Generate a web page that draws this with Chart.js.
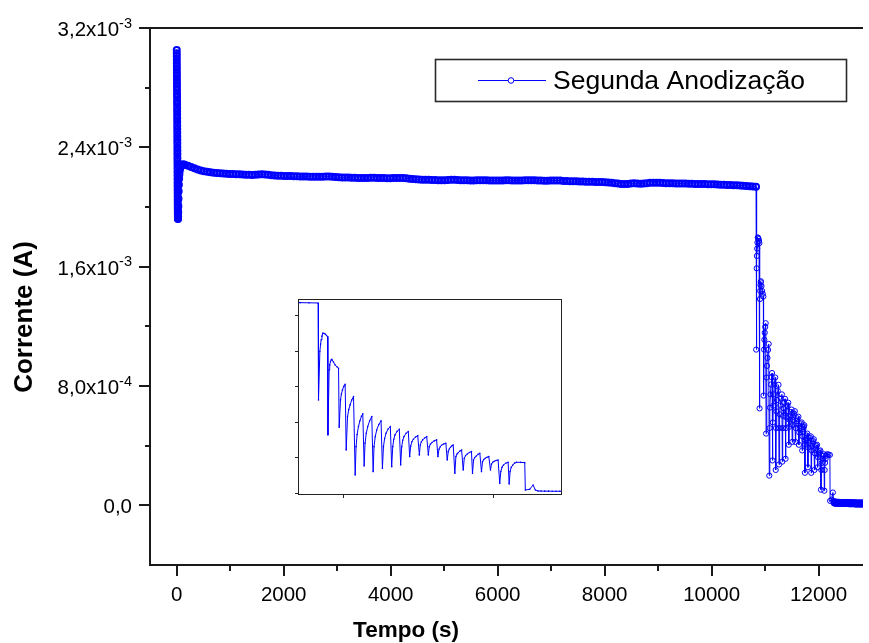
<!DOCTYPE html>
<html>
<head>
<meta charset="utf-8">
<script src="https://cdn.jsdelivr.net/npm/chart.js@4/dist/chart.umd.min.js"></script>
<style>
  html, body { margin: 0; padding: 0; background: #fff; overflow: hidden; }
  #quadro { position: relative; width: 869px; height: 643px; }
  #principal { position: absolute; left: 0; top: 0; }
  #detalhe { position: absolute; left: 285px; top: 290px; }
</style>
</head>
<body>
<div id="quadro">
  <canvas id="principal" width="869" height="643"></canvas>
  <canvas id="detalhe" width="290" height="215"></canvas>
</div>
<script>
// Cronoamperometria da segunda anodização: tempo (s) e corrente (mA).

// Pico inicial e recuperação
const tempoInicio = [
  0,0.4,0.8,1.2,1.6,2,2.4,2.8,3.2,3.6,4,4.4,4.8,5.2,5.6,6,6.4,6.8,7.2,7.6,
  8,8.4,8.8,9.2,9.6,10,10.4,10.8,11.2,11.6,12,12.4,12.8,13.2,13.6,14,14.4,14.8,15.2,15.6,
  16,16.5,17,17.5,18,18.5,19,19.5,20,20.5,21,21.5,22,
  24,26,28,30,33,36,40,45,50,57,65,75,87,100,115,130
];
const correnteInicioMA = [
  3.052,3.031,3.010,2.988,2.966,2.944,2.921,2.899,2.876,2.853,2.830,2.807,2.784,2.760,2.737,2.713,2.690,2.666,2.642,2.619,
  2.595,2.571,2.547,2.523,2.499,2.475,2.451,2.427,2.403,2.379,2.355,2.331,2.307,2.283,2.259,2.235,2.211,2.187,2.163,2.140,
  2.117,2.094,2.072,2.051,2.031,2.012,1.994,1.977,1.962,1.949,1.937,1.927,1.920,
  1.921,1.935,1.965,2.005,2.055,2.105,2.150,2.190,2.220,2.245,2.262,2.272,2.279,2.283,2.285,2.285
];

// Patamar de corrente
const tempoPlato = [
  150,210,270,330,390,450,510,570,630,690,
  750,810,870,930,990,1050,1110,1170,1230,1290,
  1350,1410,1470,1530,1590,1650,1710,1770,1830,1890,
  1950,2010,2070,2130,2190,2250,2310,2370,2430,2490,
  2550,2610,2670,2730,2790,2850,2910,2970,3030,3090,
  3150,3210,3270,3330,3390,3450,3510,3570,3630,3690,
  3750,3810,3870,3930,3990,4050,4110,4170,4230,4290,
  4350,4410,4470,4530,4590,4650,4710,4770,4830,4890,
  4950,5010,5070,5130,5190,5250,5310,5370,5430,5490,
  5550,5610,5670,5730,5790,5850,5910,5970,6030,6090,
  6150,6210,6270,6330,6390,6450,6510,6570,6630,6690,
  6750,6810,6870,6930,6990,7050,7110,7170,7230,7290,
  7350,7410,7470,7530,7590,7650,7710,7770,7830,7890,
  7950,8010,8070,8130,8190,8250,8310,8370,8430,8490,
  8550,8610,8670,8730,8790,8850,8910,8970,9030,9090,
  9150,9210,9270,9330,9390,9450,9510,9570,9630,9690,
  9750,9810,9870,9930,9990,10050,10110,10170,10230,10290,
  10350,10410,10470,10530,10590,10650,10710,10770,10830
];
const correntePlatoMA = [
  2.283,2.277,2.268,2.259,2.251,2.245,2.240,2.236,2.233,2.230,
  2.228,2.226,2.225,2.223,2.222,2.221,2.220,2.219,2.218,2.217,
  2.216,2.215,2.216,2.218,2.219,2.218,2.216,2.213,2.211,2.210,
  2.209,2.208,2.208,2.207,2.206,2.206,2.205,2.205,2.204,2.203,
  2.203,2.202,2.202,2.203,2.204,2.204,2.203,2.201,2.199,2.198,
  2.197,2.197,2.196,2.196,2.195,2.195,2.194,2.195,2.196,2.196,
  2.195,2.194,2.194,2.193,2.193,2.194,2.195,2.195,2.194,2.192,
  2.190,2.188,2.186,2.184,2.183,2.182,2.182,2.181,2.181,2.180,
  2.180,2.180,2.181,2.182,2.182,2.181,2.180,2.179,2.179,2.178,
  2.178,2.179,2.180,2.180,2.179,2.178,2.178,2.177,2.177,2.178,
  2.179,2.179,2.178,2.177,2.177,2.178,2.179,2.180,2.180,2.179,
  2.178,2.177,2.176,2.176,2.177,2.178,2.178,2.177,2.175,2.174,
  2.173,2.172,2.172,2.171,2.171,2.170,2.170,2.169,2.168,2.168,
  2.167,2.166,2.165,2.163,2.160,2.157,2.155,2.154,2.155,2.157,
  2.159,2.158,2.156,2.157,2.160,2.162,2.163,2.163,2.162,2.161,
  2.160,2.160,2.159,2.158,2.158,2.157,2.157,2.156,2.156,2.155,
  2.155,2.154,2.154,2.153,2.153,2.152,2.151,2.150,2.149,2.148,
  2.147,2.146,2.145,2.144,2.143,2.141,2.139,2.137,2.135
];

// Queda oscilante da corrente (um ciclo por linha)
const tempoQueda = [
  10833,10842,10847,10851,10856,10862,10870,10878,10886,10893,
  10896,10904,10908,10913,10918,10922,10933,10944,10956,10967,
  10971,10980,10986,10993,11002,11011,
  11018,11027,11035,11044,11055,11067,
  11078,11084,11091,11100,11110,11120,11129,
  11138,11144,11152,11162,11175,11189,
  11198,11204,11212,11222,11236,11251,
  11260,11267,11275,11284,11298,11313,
  11322,11329,11336,11344,11358,11373,
  11382,11389,11396,11404,11418,11433,
  11442,11449,11457,11467,11481,11496,
  11507,11513,11520,11529,11542,11556,
  11567,11573,11581,11591,11606,11622,
  11631,11638,11646,11655,11669,11684,
  11693,11700,11707,11715,11724,11733,
  11744,11751,11758,11767,11778,11789,
  11800,11807,11816,11827,11841,11855,
  11862,11869,11877,11887,11899,11911,
  11922,11929,11937,11947,11959,11971,
  11982,11989,11997,12007,12020,12033,
  12044,12051,12059,12069,12084,12100,
  12107,12113,12121,12131,12143,12156,12184,12211,
  12215,12244,12267,12282,12300
];
const correnteQuedaMA = [
  1.044,1.589,1.672,1.721,1.762,1.796,1.792,1.785,1.772,1.758,
  0.650,1.383,1.438,1.476,1.495,1.502,1.470,1.437,1.418,1.400,
  0.736,1.044,1.110,1.157,1.196,1.221,
  0.481,0.857,0.935,0.988,1.042,1.082,
  0.199,0.518,0.655,0.744,0.810,0.860,0.887,
  0.301,0.556,0.668,0.744,0.810,0.857,
  0.237,0.518,0.630,0.706,0.768,0.808,
  0.274,0.518,0.610,0.669,0.716,0.744,
  0.293,0.518,0.600,0.650,0.690,0.714,
  0.312,0.518,0.590,0.631,0.668,0.688,
  0.406,0.526,0.573,0.601,0.626,0.642,
  0.425,0.537,0.572,0.594,0.616,0.631,
  0.425,0.518,0.546,0.564,0.583,0.594,
  0.406,0.488,0.516,0.534,0.548,0.556,
  0.368,0.462,0.492,0.511,0.527,0.537,
  0.218,0.406,0.435,0.451,0.468,0.481,
  0.255,0.387,0.418,0.436,0.452,0.462,
  0.218,0.368,0.396,0.413,0.431,0.443,
  0.237,0.349,0.372,0.387,0.398,0.406,
  0.255,0.323,0.341,0.353,0.362,0.368,
  0.105,0.237,0.285,0.312,0.331,0.342,
  0.098,0.237,0.285,0.312,0.332,0.342,0.341,0.338,
  0.030,0.038,0.086,0.030,0.019
];

// Corrente residual
const tempoCauda = [
  12320,12345,12370,12395,12420,12445,12470,12495,12520,12545,12570,12595,
  12620,12645,12670,12695,12720,12745,12770,12795,12820,12845,12870,12895
];
const correnteCaudaMA = [
  0.018,0.017,0.017,0.016,0.016,0.016,0.015,0.015,0.015,0.015,0.014,0.014,
  0.014,0.014,0.014,0.013,0.013,0.013,0.013,0.013,0.013,0.012,0.012,0.012
];

const nomeSerie = 'Segunda Anodização';

// Eixos do gráfico principal
const tituloX = 'Tempo (s)';
const tituloY = 'Corrente (A)';
const ticksX = [0, 2000, 4000, 6000, 8000, 10000, 12000];
const ticksXMenores = [1000, 3000, 5000, 7000, 9000, 11000];
const ticksY = [0, 8.0e-4, 1.6e-3, 2.4e-3, 3.2e-3];
const rotulosYBase = ['0,0', '8,0x10', '1,6x10', '2,4x10', '3,2x10'];
const rotulosYExpoente = ['', '-4', '-3', '-3', '-3'];
const ticksYMenores = [4e-4, 1.2e-3, 2.0e-3, 2.8e-3];

// Eixos do detalhe
const ticksXDetalhe = [11000, 12000];
const ticksYDetalhe = [0, 4e-4, 8e-4, 1.2e-3, 1.6e-3, 2.0e-3];

const AZUL = '#0000ff';
const TINTA = '#1a1a1a';
const FONTE = '"Liberation Sans", Arial, sans-serif';

function paraPontos(tempos, correntesMA) {
  return tempos.map((t, i) => ({ x: t, y: correntesMA[i] * 1e-3 }));
}

const serie = [].concat(
  paraPontos(tempoInicio, correnteInicioMA),
  paraPontos(tempoPlato, correntePlatoMA),
  paraPontos(tempoQueda, correnteQuedaMA),
  paraPontos(tempoCauda, correnteCaudaMA)
);

// Na queda os pontos ficam separados e aparecem como anéis finos;
// nos trechos densos os anéis se sobrepõem numa faixa contínua.
const inicioQueda = tempoQueda[0];
const fimQueda = tempoQueda[tempoQueda.length - 2];
const naQueda = c => c.raw && c.raw.x >= inicioQueda && c.raw.x <= fimQueda;

// Área de plotagem do gráfico principal, em pixels do canvas
const AREA = { left: 150, top: 28, right: 869, bottom: 565 };

const molduraPrincipal = {
  id: 'molduraPrincipal',
  afterDatasetsDraw(chart) {
    const { ctx, chartArea: a, scales: { x, y } } = chart;
    ctx.save();

    // linhas dos eixos
    ctx.strokeStyle = TINTA;
    ctx.lineWidth = 2;
    ctx.beginPath();
    ctx.moveTo(a.left, a.top); ctx.lineTo(a.right, a.top);
    ctx.moveTo(a.left, a.top - 1); ctx.lineTo(a.left, a.bottom + 1);
    ctx.moveTo(a.left - 1, a.bottom); ctx.lineTo(a.right, a.bottom);
    ctx.stroke();

    // marcas do eixo X
    ctx.beginPath();
    ticksX.forEach(v => { const px = Math.round(x.getPixelForValue(v)); ctx.moveTo(px, a.bottom); ctx.lineTo(px, a.bottom + 11); });
    ticksXMenores.forEach(v => { const px = Math.round(x.getPixelForValue(v)); ctx.moveTo(px, a.bottom); ctx.lineTo(px, a.bottom + 6); });
    // marcas do eixo Y
    ticksY.forEach(v => { const py = Math.round(y.getPixelForValue(v)); ctx.moveTo(a.left, py); ctx.lineTo(a.left - 11, py); });
    ticksYMenores.forEach(v => { const py = Math.round(y.getPixelForValue(v)); ctx.moveTo(a.left, py); ctx.lineTo(a.left - 5, py); });
    ctx.stroke();

    // rótulos do eixo X
    ctx.fillStyle = '#000';
    ctx.font = '20.5px ' + FONTE;
    ctx.textAlign = 'center';
    ctx.textBaseline = 'alphabetic';
    ticksX.forEach(v => ctx.fillText(String(v), x.getPixelForValue(v), a.bottom + 36));

    // rótulos do eixo Y com expoente sobrescrito
    const direita = 132;
    ticksY.forEach((v, i) => {
      const py = y.getPixelForValue(v);
      ctx.font = '14.5px ' + FONTE;
      const wExp = rotulosYExpoente[i] ? ctx.measureText(rotulosYExpoente[i]).width : 0;
      ctx.textAlign = 'right';
      if (wExp) ctx.fillText(rotulosYExpoente[i], direita, py - 0.5);
      ctx.font = '20.5px ' + FONTE;
      ctx.fillText(rotulosYBase[i], direita - wExp, py + 8);
    });

    // títulos dos eixos
    ctx.textAlign = 'center';
    ctx.font = 'bold 22.5px ' + FONTE;
    ctx.fillText(tituloX, 406, 637);
    ctx.save();
    ctx.translate(32, 317);
    ctx.rotate(-Math.PI / 2);
    ctx.font = 'bold 26px ' + FONTE;
    ctx.fillText(tituloY, 0, 0);
    ctx.restore();

    // legenda
    ctx.fillStyle = '#fff';
    ctx.fillRect(435, 59, 412, 43);
    ctx.strokeStyle = '#2a2a2a';
    ctx.lineWidth = 1.6;
    ctx.strokeRect(435.5, 59.5, 411, 42);
    ctx.strokeStyle = AZUL;
    ctx.lineWidth = 1;
    ctx.beginPath();
    ctx.moveTo(478, 80.5); ctx.lineTo(546, 80.5);
    ctx.stroke();
    ctx.fillStyle = '#fff';
    ctx.beginPath();
    ctx.arc(511, 80.5, 2.8, 0, Math.PI * 2);
    ctx.fill();
    ctx.stroke();
    ctx.fillStyle = '#000';
    ctx.font = '26.5px ' + FONTE;
    ctx.textAlign = 'left';
    ctx.fillText(chart.data.datasets[0].label, 553, 89);

    ctx.restore();
  }
};

new Chart(document.getElementById('principal'), {
  type: 'line',
  data: {
    datasets: [{
      label: nomeSerie,
      data: serie,
      borderColor: AZUL,
      borderWidth: 1,
      pointStyle: 'circle',
      pointRadius: c => naQueda(c) ? 2.6 : 3,
      pointBorderWidth: c => naQueda(c) ? 1 : 2,
      pointBorderColor: AZUL,
      pointBackgroundColor: 'rgba(0,0,0,0)',
      tension: 0
    }]
  },
  options: {
    responsive: false,
    animation: false,
    devicePixelRatio: 1,
    layout: { padding: { left: 0, top: AREA.top, right: 0, bottom: 0 } },
    plugins: { legend: { display: false }, tooltip: { enabled: false } },
    events: [],
    scales: {
      x: {
        type: 'linear', min: -500, max: 12830,
        ticks: { display: false }, grid: { display: false }, border: { display: false },
        afterFit(s) { s.height = 643 - AREA.bottom; }
      },
      y: {
        type: 'linear', min: -4e-4, max: 3.2e-3,
        ticks: { display: false }, grid: { display: false }, border: { display: false },
        afterFit(s) { s.width = AREA.left; }
      }
    }
  },
  plugins: [molduraPrincipal]
});

// Detalhe ampliado da queda de corrente
const molduraDetalhe = {
  id: 'molduraDetalhe',
  beforeDatasetsDraw(chart) {
    const { ctx, chartArea: a } = chart;
    ctx.save();
    ctx.fillStyle = '#fff';
    ctx.fillRect(a.left, a.top, a.right - a.left, a.bottom - a.top);
    ctx.restore();
  },
  afterDatasetsDraw(chart) {
    const { ctx, chartArea: a, scales: { x, y } } = chart;
    ctx.save();
    ctx.strokeStyle = '#222';
    ctx.lineWidth = 1;
    ctx.strokeRect(a.left + 0.5, a.top + 0.5, a.right - a.left - 1, a.bottom - a.top);
    ctx.beginPath();
    ticksXDetalhe.forEach(v => { const px = Math.round(x.getPixelForValue(v)) + 0.5; ctx.moveTo(px, a.bottom); ctx.lineTo(px, a.bottom + 4); });
    ticksYDetalhe.forEach(v => { const py = Math.round(y.getPixelForValue(v)) + 0.5; ctx.moveTo(a.left, py); ctx.lineTo(a.left - 3, py); });
    ctx.stroke();
    ctx.restore();
  }
};

new Chart(document.getElementById('detalhe'), {
  type: 'line',
  data: {
    datasets: [{
      label: nomeSerie,
      data: serie,
      borderColor: AZUL,
      borderWidth: 1,
      pointRadius: 0.8,
      pointBorderWidth: 0,
      pointBackgroundColor: AZUL,
      tension: 0
    }]
  },
  options: {
    responsive: false,
    animation: false,
    devicePixelRatio: 1,
    layout: { padding: { left: 0, top: 9, right: 13, bottom: 0 } },
    plugins: { legend: { display: false }, tooltip: { enabled: false } },
    events: [],
    scales: {
      x: {
        type: 'linear', min: 10696, max: 12460,
        ticks: { display: false }, grid: { display: false }, border: { display: false },
        afterFit(s) { s.height = 11; }
      },
      y: {
        type: 'linear', min: -1.5e-5, max: 2.18e-3,
        ticks: { display: false }, grid: { display: false }, border: { display: false },
        afterFit(s) { s.width = 13; }
      }
    }
  },
  plugins: [molduraDetalhe]
});
</script>
</body>
</html>
